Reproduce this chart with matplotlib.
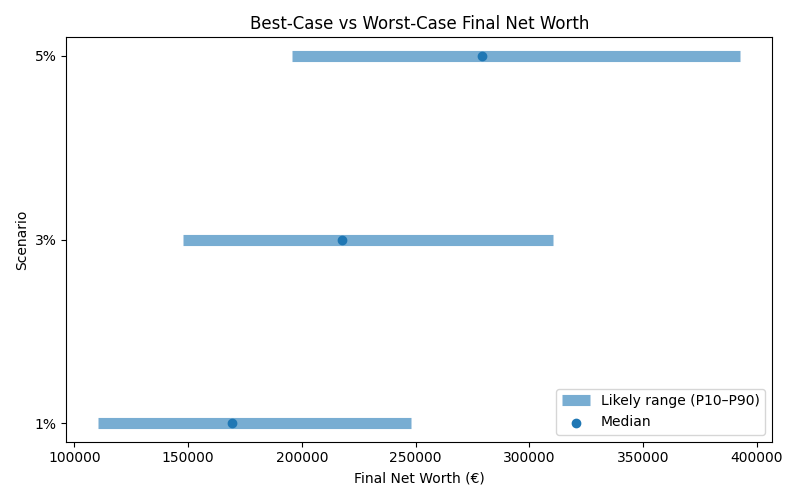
import matplotlib
matplotlib.use("Agg")
from matplotlib import pyplot as plt

scenarios = ["1%", "3%", "5%"]
p10 = [110500, 147500, 195800]
p90 = [247800, 310500, 392600]
median = [169400, 217800, 279300]

fig, ax = plt.subplots(figsize=(8, 5), dpi=100)
ax.hlines(scenarios, p10, p90, color="tab:blue", alpha=0.6, linewidth=8, label="Likely range (P10\u2013P90)")
ax.scatter(median, scenarios, color="tab:blue", zorder=3, label="Median")
ax.set_xlabel("Final Net Worth (\u20ac)")
ax.set_ylabel("Scenario")
ax.set_title("Best-Case vs Worst-Case Final Net Worth")
ax.legend(loc="lower right")
plt.tight_layout()
plt.savefig("out.png")
